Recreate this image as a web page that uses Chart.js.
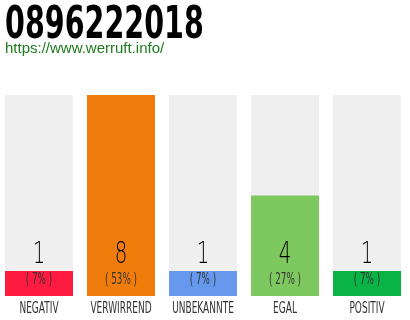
<!DOCTYPE html>
<html>
<head>
<meta charset="utf-8">
<script src="https://cdn.jsdelivr.net/npm/chart.js@4/dist/chart.umd.min.js"></script>
<style>
  html, body { margin: 0; padding: 0; background: #ffffff; overflow: hidden; width: 410px; height: 320px; }
  canvas { display: block; position: relative; left: -2px; }
</style>
</head>
<body>
<canvas id="chart" width="412" height="320"></canvas>
<script>
// Rating breakdown for one phone number
const phoneNumber = "0896222018";
const siteUrl = "https://www.werruft.info/";
const categories = ["NEGATIV", "VERWIRREND", "UNBEKANNTE", "EGAL", "POSITIV"];
const counts = [1, 8, 1, 4, 1];
const percents = [7, 53, 7, 27, 7];
const barColors = ["#ff1a40", "#f07c0c", "#6699ee", "#7ec860", "#0ab444"];
const trackColor = "#efefef";

const trackMax = Math.max(...counts);
const track = categories.map(() => trackMax);

// canvas sits 2px left of the page edge; text offsets compensate
const shift = 2;

// Draws text squeezed horizontally to imitate a condensed face
function narrowText(ctx, text, x, y, font, sx, color, align) {
  ctx.save();
  ctx.font = font;
  ctx.fillStyle = color;
  ctx.textBaseline = "alphabetic";
  ctx.textAlign = "left";
  const w = ctx.measureText(text).width * sx;
  let left = x;
  if (align === "center") left = x - w / 2;
  ctx.translate(left, y);
  ctx.scale(sx, 1);
  ctx.fillText(text, 0, 0);
  ctx.restore();
}

const labelsPlugin = {
  id: "labels",
  afterDraw(chart) {
    const ctx = chart.ctx;
    const xs = chart.scales.x;
    const ys = chart.scales.y;
    const base = ys.getPixelForValue(0);

    // heading and link
    narrowText(ctx, phoneNumber, 5 + shift, 38, "bold 45px 'DejaVu Sans'", 0.635, "#000000", "left");
    ctx.save();
    ctx.font = "15px 'Liberation Sans'";
    ctx.fillStyle = "#1f7a1f";
    ctx.textBaseline = "alphabetic";
    ctx.fillText(siteUrl, 5 + shift, 53);
    ctx.restore();

    categories.forEach((c, i) => {
      const cx = xs.getPixelForValue(i);
      narrowText(ctx, String(counts[i]), cx, base - 33, "200 30px 'DejaVu Sans'", 0.66, "#000000", "center");
      narrowText(ctx, "( " + percents[i] + "% )", cx, base - 12, "400 16px 'DejaVu Sans'", 0.55, "#333333", "center");
      narrowText(ctx, c, cx, base + 17, "400 15px 'DejaVu Sans'", 0.6, "#333333", "center");
    });
  }
};

new Chart(document.getElementById("chart"), {
  type: "bar",
  data: {
    labels: categories,
    datasets: [
      {
        data: counts,
        backgroundColor: barColors,
        borderWidth: 0,
        barPercentage: 68 / 82,
        categoryPercentage: 1,
        grouped: false
      },
      {
        data: track,
        backgroundColor: trackColor,
        borderWidth: 0,
        barPercentage: 68 / 82,
        categoryPercentage: 1,
        grouped: false
      }
    ]
  },
  options: {
    responsive: false,
    animation: false,
    events: [],
    layout: { padding: { left: 0, right: 2, top: 95, bottom: 24 } },
    plugins: {
      legend: { display: false },
      tooltip: { enabled: false },
      title: { display: false }
    },
    scales: {
      x: { display: false },
      y: { display: false, min: 0, max: trackMax }
    }
  },
  plugins: [labelsPlugin]
});
</script>
</body>
</html>
